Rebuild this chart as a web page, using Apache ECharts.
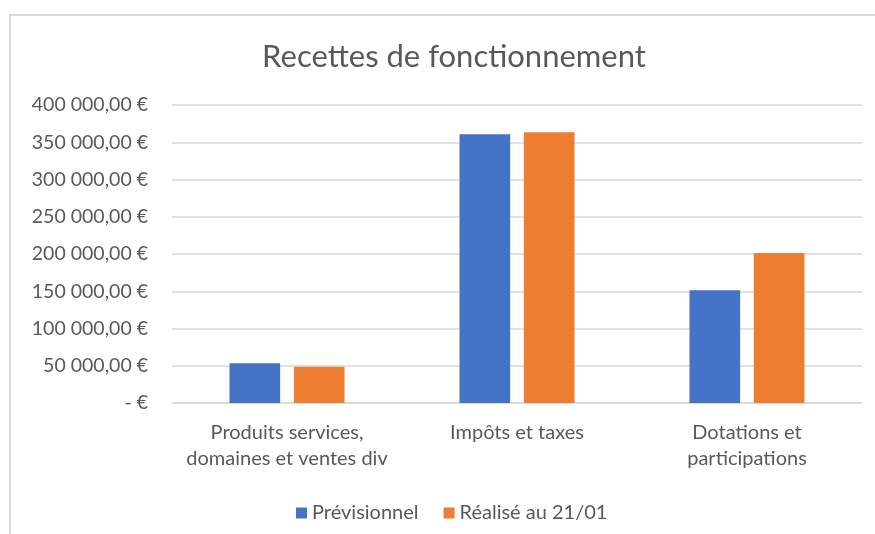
<!DOCTYPE html>
<html>
<head>
<meta charset="utf-8">
<title>Recettes de fonctionnement</title>
<script src="https://cdn.jsdelivr.net/npm/echarts@6/dist/echarts.min.js"></script>
<style>
  html, body { margin: 0; padding: 0; background: #fff; overflow: hidden; }
  #frame { position: absolute; left: 9px; top: 14px; width: 1000px; height: 700px; border-left: 2px solid #d9d9d9; border-top: 2px solid #d9d9d9; }
  #chart { position: absolute; left: 0; top: 0; width: 875px; height: 534px; }
</style>
</head>
<body>
<div id="frame"></div>
<div id="chart"></div>
<script>
// catégories et valeurs
var categories = ['Produits services,\ndomaines et ventes div', 'Impôts et taxes', 'Dotations et\nparticipations']
var previsionnel = [53300, 360700, 151300]
var realise = [48700, 363400, 201300]
var seriesNames = ['Prévisionnel', 'Réalisé au 21/01']

var fontFamily = 'Lato, "Open Sans", sans-serif'
var textColor = '#595959'

// format monétaire façon Excel : 400 000,00 €  /  - €
function euro(v) {
  if (v === 0) return '- €'
  var parts = v.toFixed(2).split('.')
  var ent = parts[0].replace(/\B(?=(\d{3})+(?!\d))/g, ' ')
  return ent + ',' + parts[1] + ' €'
}

var myChart = echarts.init(document.getElementById('chart'))
var option = {
  animation: false,
  color: ['#4472c4', '#ed7d31'],
  title: {
    text: 'Recettes de fonctionnement',
    left: 449,
    top: 36,
    textAlign: 'center',
    textStyle: {
      fontFamily: fontFamily,
      fontWeight: 'normal',
      fontSize: 31,
      color: textColor
    }
  },
  legend: {
    data: seriesNames,
    left: 291,
    top: 498,
    icon: 'rect',
    itemWidth: 11,
    itemHeight: 11,
    itemGap: 25,
    textStyle: {
      fontFamily: fontFamily,
      fontSize: 20,
      color: textColor
    }
  },
  grid: {
    left: 172,
    right: 13,
    top: 105,
    bottom: 131
  },
  xAxis: {
    type: 'category',
    data: categories,
    axisLine: { lineStyle: { color: '#d9d9d9', width: 1.5 } },
    axisTick: { show: false },
    axisLabel: {
      margin: 17,
      fontFamily: fontFamily,
      fontSize: 20,
      lineHeight: 26,
      color: textColor,
      interval: 0
    }
  },
  yAxis: {
    type: 'value',
    min: 0,
    max: 400000,
    interval: 50000,
    axisLine: { show: false },
    axisTick: { show: false },
    splitLine: { lineStyle: { color: '#d9d9d9', width: 1.5 } },
    axisLabel: {
      margin: 24,
      fontFamily: fontFamily,
      fontSize: 19.5,
      color: textColor,
      formatter: euro
    }
  },
  series: [
    {
      name: seriesNames[0],
      type: 'bar',
      data: previsionnel,
      barGap: '27%',
      barCategoryGap: '50%'
    },
    {
      name: seriesNames[1],
      type: 'bar',
      data: realise
    }
  ]
}
myChart.setOption(option)
</script>
</body>
</html>
